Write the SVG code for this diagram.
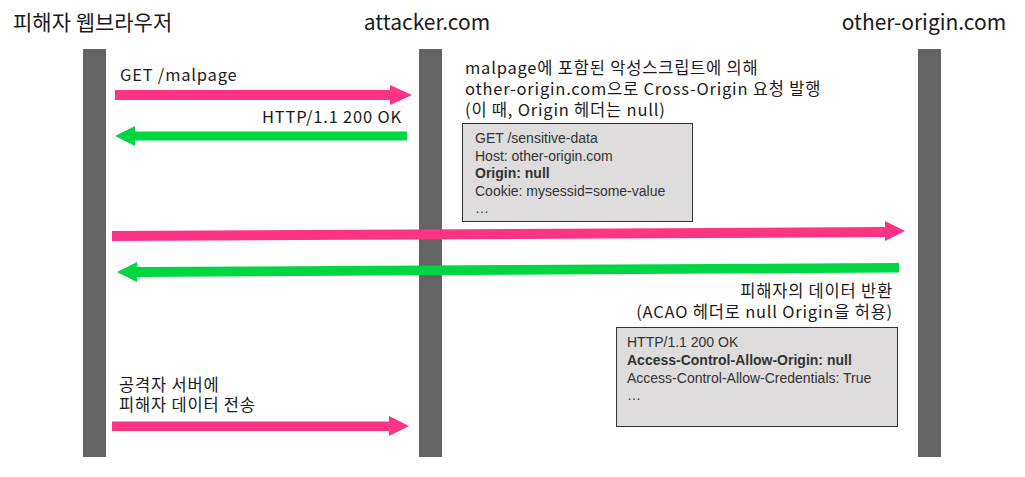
<svg xmlns="http://www.w3.org/2000/svg" width="1025" height="477" viewBox="0 0 1025 477">
<style>
text{font-family:"Noto Sans CJK KR","Liberation Sans",sans-serif;fill:#1a1a1a}
.t{font-size:21px}
.l{font-size:16.5px;letter-spacing:0.8px}
.m{font-family:"Liberation Sans","Noto Sans CJK KR",sans-serif;font-size:14px;fill:#333}
.b{font-weight:bold}
.life{fill:#646464}
.box{fill:#dedcdc;stroke:#333;stroke-width:1}
.pk{fill:#ff3385}
.gr{fill:#00d641}
</style>
<rect width="1025" height="477" fill="#fff"/>
<g id="browser">
<text class="t" x="13" y="30">피해자 웹브라우저</text>
<rect class="life" x="83" y="49" width="23" height="408"/>
</g>
<g id="attacker">
<text class="t" x="427" y="30" text-anchor="middle">attacker.com</text>
<rect class="life" x="419" y="49" width="23" height="408"/>
</g>
<g id="other">
<text class="t" x="924" y="30" text-anchor="middle">other-origin.com</text>
<rect class="life" x="918" y="49" width="23" height="408"/>
</g>
<g id="connectors">
<polygon class="pk" points="115,90 390,90 390,85 412,95 390,105 390,100 115,100"/>
<text class="l" x="120" y="81">GET /malpage</text>
<polygon class="gr" points="407,131.5 135,131.5 135,126 115,136 135,146 135,140.5 407,140.5"/>
<text class="l" x="402" y="123" text-anchor="end">HTTP/1.1 200 OK</text>
<polygon class="pk" points="112,231 885,227 885,221 905,231 885,241 885,237 112,241"/>
<polygon class="gr" points="899,263 137,267 137,262 117,272 137,282 137,277 899,272.5"/>
<polygon class="pk" points="112,421.5 389,421.5 389,416 409,426 389,436 389,431 112,431"/>
<text class="l" x="119" y="391">공격자 서버에</text>
<text class="l" x="119" y="411">피해자 데이터 전송</text>
</g>
<g id="note1">
<text class="l" x="465" y="74">malpage에 포함된 악성스크립트에 의해</text>
<text class="l" x="465" y="95">other-origin.com으로 Cross-Origin 요청 발행</text>
<text class="l" x="465" y="116">(이 때, Origin 헤더는 null)</text>
</g>
<g id="req">
<rect class="box" x="462.5" y="123.5" width="230" height="98"/>
<text class="m" x="475" y="143">GET /sensitive-data</text>
<text class="m" x="475" y="161">Host: other-origin.com</text>
<text class="m b" x="475" y="178">Origin: null</text>
<text class="m" x="475" y="196">Cookie: mysessid=some-value</text>
<text class="m" x="475" y="213">…</text>
</g>
<g id="note2">
<text class="l" x="893" y="297" text-anchor="end">피해자의 데이터 반환</text>
<text class="l" x="893" y="318" text-anchor="end">(ACAO 헤더로 null Origin을 허용)</text>
</g>
<g id="resp">
<rect class="box" x="616.5" y="327.5" width="281" height="99"/>
<text class="m" x="627" y="347">HTTP/1.1 200 OK</text>
<text class="m b" x="627" y="365">Access-Control-Allow-Origin: null</text>
<text class="m" x="627" y="383">Access-Control-Allow-Credentials: True</text>
<text class="m" x="627" y="400">…</text>
</g>
</svg>
